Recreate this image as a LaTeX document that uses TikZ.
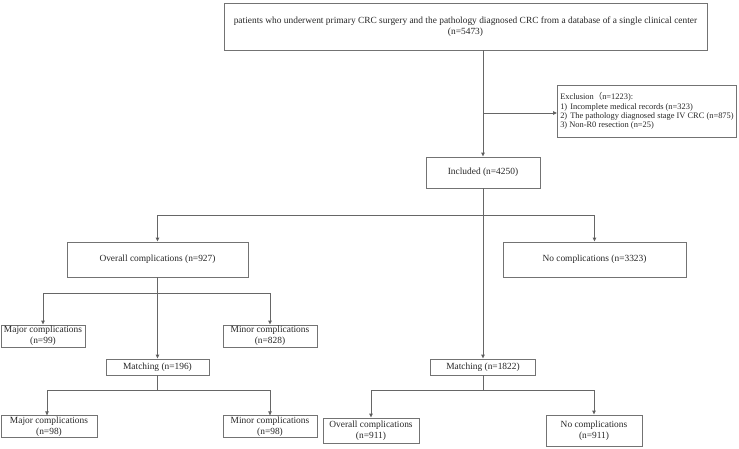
\documentclass[tikz,border=0pt]{standalone}
\usepackage{fontspec}
\setmainfont{Liberation Serif}
\newfontfamily\cjkfont{Noto Sans CJK SC}
\usetikzlibrary{arrows.meta}
\begin{document}
\begin{tikzpicture}[x=1pt,y=-1pt,
  box/.style={draw=black!55, line width=0.9pt, rectangle, inner sep=1pt, align=center, font=\fontsize{9.4}{10.8}\selectfont, text=black!85},
  conn/.style={draw=black!60, line width=0.9pt},
  arr/.style={conn, -{Triangle[length=4pt,width=3.5pt,fill=black]}}
]
\useasboundingbox (0,0) rectangle (739,448);
\node[box, minimum width=483pt, minimum height=47pt] (top) at (465.5,26.5) {patients who underwent primary CRC surgery and the pathology diagnosed CRC from a database of a single clinical center\\(n=5473)};
\node[box, minimum width=179pt, minimum height=52pt, align=left, anchor=west, font=\fontsize{8.4}{9.2}\selectfont] (excl) at (557,111) {Exclusion{\cjkfont （}n=1223):\\1)\hspace{3pt}Incomplete medical records (n=323)\\2)\hspace{3pt}The pathology diagnosed stage IV CRC (n=875)\\3) Non-R0 resection (n=25)};
\node[box, minimum width=114pt, minimum height=31pt] (incl) at (483,172.5) {Included (n=4250)};
\node[box, minimum width=181pt, minimum height=35pt] (over) at (157.5,259.5) {Overall complications (n=927)};
\node[box, minimum width=183pt, minimum height=35pt] (noc) at (594.5,259.5) {No complications (n=3323)};
\node[box, minimum width=84pt, minimum height=22pt] (maj1) at (43,336) {Major complications\\(n=99)};
\node[box, minimum width=94pt, minimum height=22pt] (min1) at (270,336) {Minor complications\\(n=828)};
\node[box, minimum width=103pt, minimum height=16pt] (m1) at (157.5,367) {Matching (n=196)};
\node[box, minimum width=105pt, minimum height=16pt] (m2) at (483,367) {Matching (n=1822)};
\node[box, minimum width=96pt, minimum height=21pt] (maj2) at (49,426.5) {Major complications\\(n=98)};
\node[box, minimum width=94pt, minimum height=21pt] (min2) at (270,426.5) {Minor complications\\(n=98)};
\node[box, minimum width=96pt, minimum height=25pt] (ov2) at (371,430.5) {Overall complications\\(n=911)};
\node[box, minimum width=96pt, minimum height=31pt] (no2) at (594,430.5) {No complications\\(n=911)};
% main trunk
\coordinate (t1) at (483,50);
\draw[arr] (t1) -- (incl.north);
\coordinate (e1) at (483,113);
\draw[arr] (e1) -- (e1 -| excl.west);
% split after included
\coordinate (s1) at (483,215);
\draw[arr] (incl.south) -- (m2.north);
\draw[conn] (over.north |- s1) -- (noc.north |- s1);
\draw[arr] (over.north |- s1) -- (over.north);
\draw[arr] (noc.north |- s1) -- (noc.north);
% overall branch
\coordinate (s2) at (157.5,293);
\draw[arr] (over.south) -- (m1.north);
\draw[conn] (maj1.north |- s2) -- (min1.north |- s2);
\draw[arr] (maj1.north |- s2) -- (maj1.north);
\draw[arr] (min1.north |- s2) -- (min1.north);
% matching 196
\coordinate (s3) at (157.5,390);
\draw[conn] (m1.south) -- (s3);
\draw[conn] (47,390) coordinate (l3) -- (min2.north |- s3);
\draw[arr] (l3) -- (l3 |- maj2.north);
\draw[arr] (min2.north |- s3) -- (min2.north);
% matching 1822
\coordinate (s4) at (483,390);
\draw[conn] (m2.south) -- (s4);
\draw[conn] (ov2.north |- s4) -- (no2.north |- s4);
\draw[arr] (ov2.north |- s4) -- (ov2.north);
\draw[arr] (no2.north |- s4) -- (no2.north);
\end{tikzpicture}
\end{document}
